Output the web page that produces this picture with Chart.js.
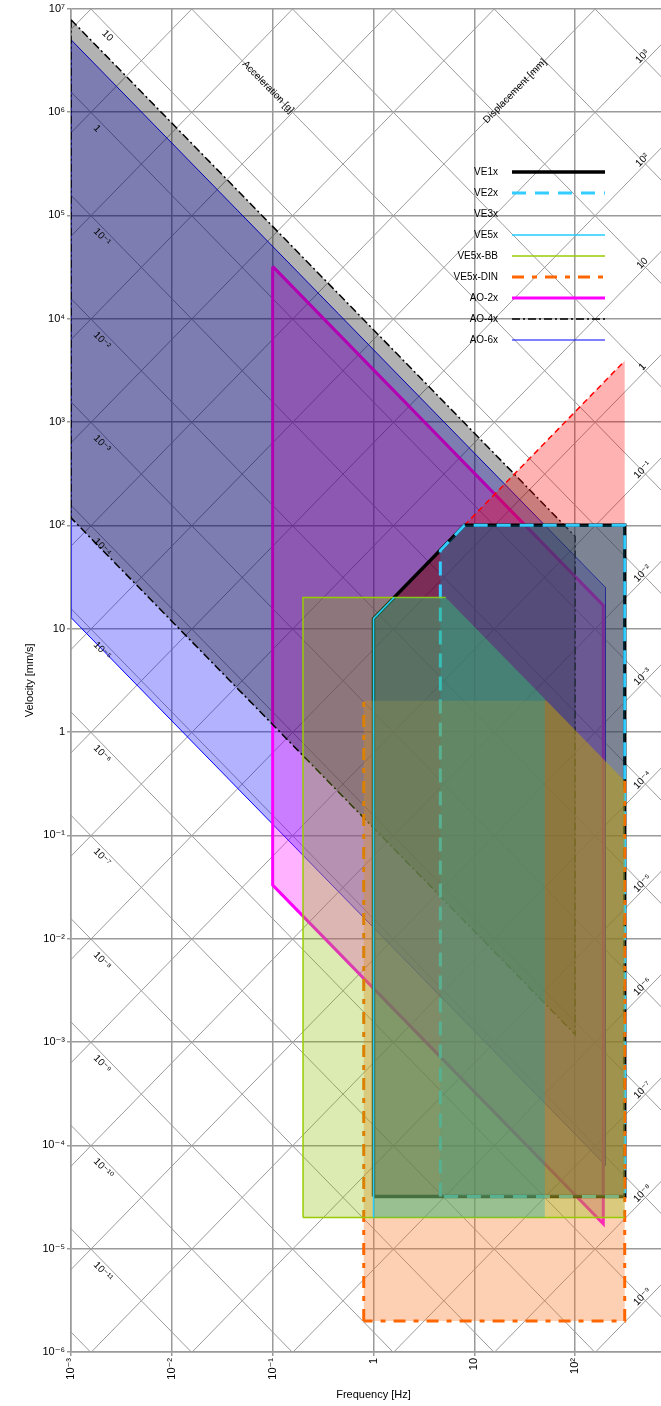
<!DOCTYPE html>
<html>
<head>
<meta charset="utf-8">
<script src="https://cdn.jsdelivr.net/npm/chart.js@4.4.1/dist/chart.umd.min.js"></script>
<style>
  html, body { margin: 0; padding: 0; background: #fff; overflow: hidden; }
  #wrap { width: 661px; height: 1406px; overflow: hidden; }
</style>
</head>
<body>
<div id="wrap"><canvas id="vibChart" width="700" height="1406"></canvas></div>
<script>
// axes (log-log)
const freqTicks = [0.001, 0.01, 0.1, 1, 10, 100, 1000];
const freqTickLabels = ['10⁻³', '10⁻²', '10⁻¹', '1', '10', '10²', '10³'];
const velTicks = [1e7, 1e6, 1e5, 1e4, 1e3, 100, 10, 1, 0.1, 0.01, 1e-3, 1e-4, 1e-5, 1e-6];
const velTickLabels = ['10⁷', '10⁶', '10⁵', '10⁴', '10³', '10²', '10', '1', '10⁻¹', '10⁻²', '10⁻³', '10⁻⁴', '10⁻⁵', '10⁻⁶'];

// diagonal iso-lines: acceleration [g] and displacement [mm]
const accelExps = [6, 5, 4, 3, 2, 1, 0, -1, -2, -3, -4, -5, -6, -7, -8, -9, -10, -11, -12];
const accelLabelExps = [1, 0, -1, -2, -3, -4, -5, -6, -7, -8, -9, -10, -11];
const dispExps = [9, 8, 7, 6, 5, 4, 3, 2, 1, 0, -1, -2, -3, -4, -5, -6, -7, -8, -9];
const dispLabelExps = [3, 2, 1, 0, -1, -2, -3, -4, -5, -6, -7, -8, -9];

// envelopes (frequency Hz / velocity mm/s), closed polygons
const ve1xFreq = [1, 1, 8, 310, 310, 1];
const ve1xVel = [3.2e-5, 12.5, 100, 100, 3.2e-5, 3.2e-5];
const ve2xFreq = [4.6, 4.6, 8, 310, 310, 4.6];
const ve2xVel = [3.2e-5, 57, 100, 100, 3.2e-5, 3.2e-5];
const ve3xFreq = [1, 1, 310, 310, 1];
const ve3xVel = [3.2e-5, 12.5, 3900, 3.2e-5, 3.2e-5];
const ve5xFreq = [1, 1, 1.6, 5.2, 50, 50, 1];
const ve5xVel = [2e-5, 12.5, 20, 20, 2.1, 2e-5, 2e-5];
const ve5xBbFreq = [0.2, 0.2, 5.2, 310, 310, 0.2];
const ve5xBbVel = [2e-5, 20, 20, 0.335, 2e-5, 2e-5];
const ve5xDinFreq = [0.8, 0.8, 52, 310, 310, 0.8];
const ve5xDinVel = [2e-6, 2, 2, 0.335, 2e-6, 2e-6];
const ao2xFreq = [0.1, 190, 190, 0.1, 0.1];
const ao2xVel = [3.2e4, 16.8, 1.74e-5, 0.033, 3.2e4];
const ao4xFreq = [0.001, 100, 100, 0.001, 0.001];
const ao4xVel = [7.8e6, 78, 1.18e-3, 118, 7.8e6];
const ao6xFreq = [0.001, 200, 200, 0.001, 0.001];
const ao6xVel = [5e6, 25, 6.4e-5, 12.8, 5e6];

const G_MM = 9806.65;
const supDigits = {'-': '⁻', '0': '⁰', '1': '¹', '2': '²', '3': '³', '4': '⁴', '5': '⁵', '6': '⁶', '7': '⁷', '8': '⁸', '9': '⁹'};
function powLabel(e) {
    if (e === 0) return '1';
    if (e === 1) return '10';
    return '10' + String(e).split('').map(c => supDigits[c]).join('');
}

function pts(fs, vs) {
    return fs.map((f, i) => ({x: f, y: vs[i]}));
}

// legend order; order = drawing weight (higher is drawn first / underneath)
// edges: which polygon sides get an outline (null = all of them)
const series = [
    {label: 'VE1x', f: ve1xFreq, v: ve1xVel, color: '#000000', width: 3.5, dash: [], fill: 'rgba(0,0,0,0.3)', order: 5, edges: null},
    {label: 'VE2x', f: ve2xFreq, v: ve2xVel, color: '#33ccff', width: 3, dash: [14, 9], fill: 'rgba(0,150,200,0.3)', order: 4, edges: null},
    {label: 'VE3x', f: ve3xFreq, v: ve3xVel, color: '#ff0000', width: 1.5, dash: [6, 4], fill: 'rgba(255,0,0,0.3)', order: 6, edges: [0, 1, 0, 0], noLegendLine: true},
    {label: 'VE5x', f: ve5xFreq, v: ve5xVel, color: '#22ccff', width: 1.5, dash: [], fill: 'rgba(0,170,190,0.3)', order: 1, edges: [1, 1, 0, 0, 0, 0]},
    {label: 'VE5x-BB', f: ve5xBbFreq, v: ve5xBbVel, color: '#99cc00', width: 1.5, dash: [], fill: 'rgba(140,190,0,0.3)', order: 2, edges: [1, 1, 0, 0, 1]},
    {label: 'VE5x-DIN', f: ve5xDinFreq, v: ve5xDinVel, color: '#ff6600', width: 3, dash: [12, 8, 5, 8], fill: 'rgba(250,120,40,0.35)', order: 3, edges: [1, 0, 0, 1, 1]},
    {label: 'AO-2x', f: ao2xFreq, v: ao2xVel, color: '#ff00ff', width: 3, dash: [], fill: 'rgba(255,0,255,0.3)', order: 8, edges: null},
    {label: 'AO-4x', f: ao4xFreq, v: ao4xVel, color: '#000000', width: 1.5, dash: [8, 3, 2, 3], fill: 'rgba(0,0,0,0.3)', order: 7, edges: null},
    {label: 'AO-6x', f: ao6xFreq, v: ao6xVel, color: '#0000ff', width: 1, dash: [], fill: 'rgba(0,0,255,0.3)', order: 9, edges: null}
];

const datasets = [];
series.forEach(s => {
    datasets.push({
        label: s.label,
        data: pts(s.f, s.v),
        showLine: true,
        borderColor: s.color,
        borderWidth: s.edges ? 0 : s.width,
        borderDash: s.dash,
        backgroundColor: s.fill,
        fill: 'shape',
        pointRadius: 0,
        tension: 0,
        order: s.order
    });
    if (!s.edges) return;
    // outline only the visible sides, as runs of consecutive edges
    let i = 0;
    while (i < s.edges.length) {
        if (!s.edges[i]) { i++; continue; }
        let j = i;
        while (j < s.edges.length && s.edges[j]) j++;
        datasets.push({
            label: s.label + ' edge',
            data: pts(s.f.slice(i, j + 1), s.v.slice(i, j + 1)),
            showLine: true,
            borderColor: s.color,
            borderWidth: s.width,
            borderDash: s.dash,
            fill: false,
            pointRadius: 0,
            tension: 0,
            order: s.order - 0.01
        });
        i = j;
    }
});

// velocity on an iso-acceleration / iso-displacement line
function velAccel(exp, f) { return Math.pow(10, exp) * G_MM / (2 * Math.PI * f); }
function velDisp(exp, f) { return Math.pow(10, exp) * 2 * Math.PI * f; }

const diagGrid = {
    id: 'diagGrid',
    beforeDatasetsDraw(chart) {
        const {ctx, chartArea: a, scales: {x, y}} = chart;
        ctx.save();
        ctx.beginPath();
        ctx.rect(a.left, a.top, a.right - a.left, a.bottom - a.top);
        ctx.clip();
        ctx.strokeStyle = '#9a9a9a';
        ctx.lineWidth = 1;
        const f1 = 1e-4, f2 = 1e4;
        accelExps.forEach(e => {
            ctx.beginPath();
            ctx.moveTo(x.getPixelForValue(f1), y.getPixelForValue(velAccel(e, f1)));
            ctx.lineTo(x.getPixelForValue(f2), y.getPixelForValue(velAccel(e, f2)));
            ctx.stroke();
        });
        dispExps.forEach(e => {
            ctx.beginPath();
            ctx.moveTo(x.getPixelForValue(f1), y.getPixelForValue(velDisp(e, f1)));
            ctx.lineTo(x.getPixelForValue(f2), y.getPixelForValue(velDisp(e, f2)));
            ctx.stroke();
        });
        ctx.restore();
    },
    afterDatasetsDraw(chart) {
        const {ctx, scales: {x, y}} = chart;
        ctx.save();
        ctx.fillStyle = '#000';
        ctx.font = '10px "Liberation Sans", "DejaVu Sans", sans-serif';
        // angle of the lines in pixel space
        const dx = x.getPixelForValue(10) - x.getPixelForValue(1);
        const dy = y.getPixelForValue(1) - y.getPixelForValue(10);
        const angA = Math.atan2(dy, dx);
        const angD = -angA;

        accelLabelExps.forEach(e => {
            let px = 100;
            if (e >= 1) {
                const fEnter = velAccel(e, 1) / 1e7;
                px = Math.max(100, x.getPixelForValue(fEnter) + 18);
            }
            const py = y.getPixelForValue(velAccel(e, x.getValueForPixel(px)));
            ctx.save();
            ctx.translate(px, py);
            ctx.rotate(angA);
            ctx.textAlign = 'left';
            ctx.textBaseline = 'middle';
            ctx.fillText(powLabel(e), 0, 7);
            ctx.restore();
        });

        dispLabelExps.forEach(e => {
            const px = 646;
            const py = y.getPixelForValue(velDisp(e, x.getValueForPixel(px)));
            ctx.save();
            ctx.translate(px, py);
            ctx.rotate(angD);
            ctx.textAlign = 'center';
            ctx.textBaseline = 'bottom';
            ctx.fillText(powLabel(e), 0, 0);
            ctx.restore();
        });

        // titles of the diagonal scales
        let px = 268;
        let py = y.getPixelForValue(velAccel(2, x.getValueForPixel(px)));
        ctx.save();
        ctx.translate(px, py);
        ctx.rotate(angA);
        ctx.textAlign = 'center';
        ctx.textBaseline = 'middle';
        ctx.fillText('Acceleration [g]', 0, 0);
        ctx.restore();

        px = 515;
        py = y.getPixelForValue(velDisp(4, x.getValueForPixel(px)));
        ctx.save();
        ctx.translate(px, py);
        ctx.rotate(angD);
        ctx.textAlign = 'center';
        ctx.textBaseline = 'middle';
        ctx.fillText('Displacement [mm]', 0, 0);
        ctx.restore();
        ctx.restore();
    }
};

const lineLegend = {
    id: 'lineLegend',
    afterDraw(chart) {
        const ctx = chart.ctx;
        ctx.save();
        ctx.font = '10px "Liberation Sans", "DejaVu Sans", sans-serif';
        ctx.textAlign = 'right';
        ctx.textBaseline = 'middle';
        series.forEach((s, i) => {
            const rowY = 172 + i * 21;
            ctx.fillStyle = '#000';
            ctx.fillText(s.label, 498, rowY);
            if (s.noLegendLine) return;
            ctx.strokeStyle = s.color;
            ctx.lineWidth = s.width;
            ctx.setLineDash(s.dash);
            ctx.beginPath();
            ctx.moveTo(512, rowY);
            ctx.lineTo(605, rowY);
            ctx.stroke();
            ctx.setLineDash([]);
        });
        ctx.restore();
    }
};

const tickFont = {family: '"Liberation Sans", "DejaVu Sans", sans-serif', size: 11};

const vibChart = new Chart(document.getElementById('vibChart'), {
    type: 'scatter',
    data: {datasets: datasets},
    options: {
        responsive: false,
        animation: false,
        layout: {padding: {top: 7, right: 24, left: 0, bottom: 0}},
        plugins: {
            legend: {display: false},
            tooltip: {enabled: false}
        },
        scales: {
            x: {
                type: 'logarithmic',
                min: 0.001,
                max: 1000,
                afterBuildTicks: s => { s.ticks = freqTicks.map(v => ({value: v})); },
                afterFit: s => { s.height = 54; },
                ticks: {
                    color: '#000',
                    font: tickFont,
                    minRotation: 90,
                    maxRotation: 90,
                    autoSkip: false,
                    padding: 2,
                    callback: (v) => freqTickLabels[freqTicks.indexOf(v)]
                },
                grid: {color: '#9a9a9a', lineWidth: 1.5, tickLength: 4},
                border: {color: '#9a9a9a', width: 1.5},
                title: {display: true, text: 'Frequency [Hz]', color: '#000', font: tickFont, padding: {top: 0, bottom: 4}}
            },
            y: {
                type: 'logarithmic',
                min: 1e-6,
                max: 1e7,
                afterBuildTicks: s => { s.ticks = velTicks.map(v => ({value: v})); },
                afterFit: s => { s.width = 71; },
                ticks: {
                    color: '#000',
                    font: tickFont,
                    autoSkip: false,
                    padding: 2,
                    callback: (v) => velTickLabels[velTicks.indexOf(v)]
                },
                grid: {color: '#9a9a9a', lineWidth: 1.5, tickLength: 4},
                border: {color: '#9a9a9a', width: 1.5},
                title: {display: true, text: 'Velocity [mm/s]', color: '#000', font: tickFont, padding: {top: 23, bottom: 0}}
            }
        }
    },
    plugins: [diagGrid, lineLegend]
});
</script>
</body>
</html>
